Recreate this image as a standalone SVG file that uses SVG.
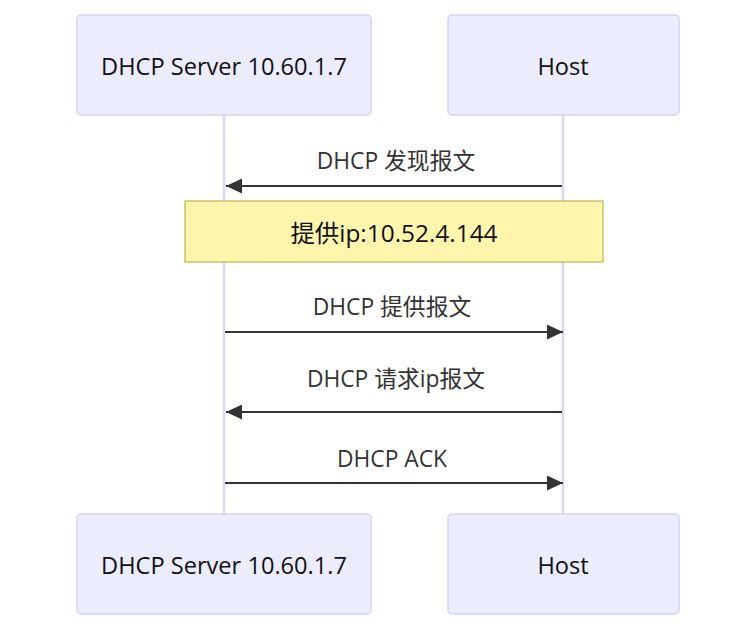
<svg xmlns="http://www.w3.org/2000/svg" width="756" height="644" viewBox="0 0 756 644">
<style>
.actor{fill:#ECECFF;stroke:#D7D0F2;stroke-width:1.5}
.atext{font-family:"Open Sans","Noto Sans","Noto Sans CJK SC",sans-serif;font-size:23.6px;fill:#111;text-anchor:middle;dominant-baseline:central}
.ntext{font-family:"Open Sans","Noto Sans","Noto Sans CJK SC",sans-serif;font-size:24.4px;fill:#111;text-anchor:middle;dominant-baseline:central}
.life{stroke:#DCD6F4;stroke-width:2.5}
.msg{stroke:#333;stroke-width:2.2;fill:none}
.mtext{font-family:"Open Sans","Noto Sans","Noto Sans CJK SC",sans-serif;font-size:22.8px;fill:#333;text-anchor:middle;dominant-baseline:central}
.note{fill:#FFF5AD;stroke:#AAAA33;stroke-width:1}
</style>
<defs>
<marker id="arrow" viewBox="0 0 16 15" refX="16" refY="7.5" markerWidth="16" markerHeight="15" markerUnits="userSpaceOnUse" orient="auto">
<path d="M0,0 L16,7.5 L0,15 z" fill="#333"/>
</marker>
</defs>
<rect width="756" height="644" fill="#fff"/>
<g id="lifelines">
<line class="life" x1="224" y1="115" x2="224" y2="514"/>
<line class="life" x1="563" y1="115" x2="563" y2="514"/>
</g>
<g id="server-top"><rect class="actor" x="77" y="15" width="294" height="100" rx="4"/><text class="atext" x="224" y="66">DHCP Server 10.60.1.7</text></g>
<g id="host-top"><rect class="actor" x="448" y="15" width="231" height="100" rx="4"/><text class="atext" x="563" y="66">Host</text></g>
<g id="server-bottom"><rect class="actor" x="77" y="514" width="294" height="100" rx="4"/><text class="atext" x="224" y="565">DHCP Server 10.60.1.7</text></g>
<g id="host-bottom"><rect class="actor" x="448" y="514" width="231" height="100" rx="4"/><text class="atext" x="563" y="565">Host</text></g>
<g id="note"><rect class="note" x="185" y="201" width="418" height="61"/><text class="ntext" x="394" y="232">提供ip:10.52.4.144</text></g>
<g id="connectors">
<line class="msg" x1="562" y1="186" x2="226" y2="186" marker-end="url(#arrow)"/>
<line class="msg" x1="225" y1="332" x2="563" y2="332" marker-end="url(#arrow)"/>
<line class="msg" x1="562" y1="412" x2="226" y2="412" marker-end="url(#arrow)"/>
<line class="msg" x1="225" y1="483" x2="563" y2="483" marker-end="url(#arrow)"/>
</g>
<g id="labels">
<text class="mtext" x="396" y="160">DHCP 发现报文</text>
<text class="mtext" x="392" y="306">DHCP 提供报文</text>
<text class="mtext" x="396" y="378">DHCP 请求ip报文</text>
<text class="mtext" x="392" y="458">DHCP ACK</text>
</g>
</svg>
